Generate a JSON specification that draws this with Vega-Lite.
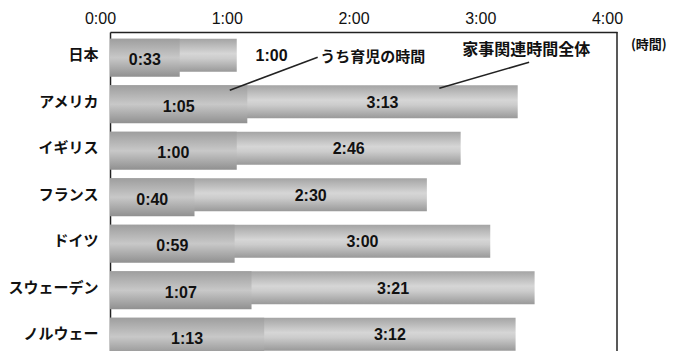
{
  "$schema": "https://vega.github.io/schema/vega-lite/v6.json",
  "width": 507,
  "height": 319,
  "autosize": "none",
  "padding": {"left": 110, "top": 32, "right": 60, "bottom": 0},
  "background": "white",
  "config": {"view": {"stroke": null}, "font": "Liberation Sans"},
  "datasets": {
    "rows": [
      {"country": "日本", "child": 33, "total": 60},
      {"country": "アメリカ", "child": 65, "total": 193},
      {"country": "イギリス", "child": 60, "total": 166},
      {"country": "フランス", "child": 40, "total": 150},
      {"country": "ドイツ", "child": 59, "total": 180},
      {"country": "スウェーデン", "child": 67, "total": 201},
      {"country": "ノルウェー", "child": 73, "total": 192}
    ]
  },
  "layer": [
    {
      "data": {"name": "rows"},
      "mark": {
        "type": "bar", "size": 33,
        "fill": {"gradient": "linear", "x1": 0, "y1": 0, "x2": 0, "y2": 1,
          "stops": [{"offset": 0, "color": "#a4a4a4"}, {"offset": 0.45, "color": "#d6d6d6"}, {"offset": 0.6, "color": "#cccccc"}, {"offset": 1, "color": "#999999"}]}
      },
      "encoding": {
        "y": {"field": "country", "type": "nominal", "sort": null, "title": null,
          "scale": {"range": [0, 325.5], "paddingInner": 0, "paddingOuter": 0},
          "axis": {"ticks": false, "domainColor": "#222", "domainWidth": 1.5, "labelFont": "Noto Sans CJK JP", "labelFontWeight": "bold", "labelFontSize": 15, "labelColor": "#111", "labelPadding": 12}},
        "x": {"field": "total", "type": "quantitative", "title": null,
          "scale": {"domain": [0, 240], "nice": false},
          "axis": {"orient": "top", "values": [0, 60, 120, 180, 240], "labelExpr": "floor(datum.value/60) + ':00'", "grid": false, "ticks": false, "domainColor": "#222", "domainWidth": 1.5, "labelFontSize": 16, "labelColor": "#111", "labelPadding": 6, "labelOffset": -10, "labelFlush": false, "labelFont": "Liberation Sans"}}
      }
    },
    {
      "data": {"name": "rows"},
      "mark": {
        "type": "bar", "size": 38, "yOffset": 2.5,
        "fill": {"gradient": "linear", "x1": 0, "y1": 0, "x2": 0, "y2": 1,
          "stops": [{"offset": 0, "color": "#9e9e9e"}, {"offset": 0.5, "color": "#c8c8c8"}, {"offset": 1, "color": "#909090"}]}
      },
      "encoding": {
        "y": {"field": "country", "type": "nominal", "sort": null, "title": null},
        "x": {"field": "child", "type": "quantitative", "title": null}
      }
    },
    {
      "data": {"name": "rows"},
      "transform": [
        {"calculate": "floor(datum.child/60) + ':' + (datum.child % 60 < 10 ? '0' : '') + (datum.child % 60)", "as": "childLabel"},
        {"calculate": "datum.child / 2", "as": "childMid"}
      ],
      "mark": {"type": "text", "fontWeight": "bold", "fontSize": 16, "color": "#111", "yOffset": 5},
      "encoding": {
        "y": {"field": "country", "type": "nominal", "sort": null, "title": null},
        "x": {"field": "childMid", "type": "quantitative", "title": null},
        "text": {"field": "childLabel"}
      }
    },
    {
      "data": {"name": "rows"},
      "transform": [
        {"calculate": "floor(datum.total/60) + ':' + (datum.total % 60 < 10 ? '0' : '') + (datum.total % 60)", "as": "totalLabel"},
        {"calculate": "datum.total - datum.child < 60 ? datum.total + 16.5 : (datum.child + datum.total) / 2", "as": "totalPos"}
      ],
      "mark": {"type": "text", "fontWeight": "bold", "fontSize": 16, "color": "#111", "yOffset": 1},
      "encoding": {
        "y": {"field": "country", "type": "nominal", "sort": null, "title": null},
        "x": {"field": "totalPos", "type": "quantitative", "title": null},
        "text": {"field": "totalLabel"}
      }
    },
    {
      "data": {"values": [{"edge": 240}]},
      "mark": {"type": "rule", "color": "#222", "strokeWidth": 1.5},
      "encoding": {"x": {"field": "edge", "type": "quantitative", "title": null}}
    },
    {
      "data": {"values": [{"from": 56.7, "to": 98.3, "r1": "アメリカ", "r2": "日本"}]},
      "mark": {"type": "rule", "color": "#222", "strokeWidth": 1.5, "yOffset": -11.5, "y2Offset": 2},
      "encoding": {
        "x": {"field": "from", "type": "quantitative", "title": null},
        "x2": {"field": "to"},
        "y": {"field": "r1", "type": "nominal", "sort": null, "title": null},
        "y2": {"field": "r2"}
      }
    },
    {
      "data": {"values": [{"from": 155.9, "to": 198.4, "r1": "アメリカ", "r2": "日本"}]},
      "mark": {"type": "rule", "color": "#222", "strokeWidth": 1.5, "yOffset": -13.5, "y2Offset": 7},
      "encoding": {
        "x": {"field": "from", "type": "quantitative", "title": null},
        "x2": {"field": "to"},
        "y": {"field": "r1", "type": "nominal", "sort": null, "title": null},
        "y2": {"field": "r2"}
      }
    },
    {
      "data": {"values": [{"label": "うち育児の時間", "t": 99.5, "r": "日本"}]},
      "mark": {"type": "text", "align": "left", "font": "Noto Sans CJK JP", "fontWeight": "bold", "fontSize": 15, "color": "#111", "yOffset": 2},
      "encoding": {
        "x": {"field": "t", "type": "quantitative", "title": null},
        "y": {"field": "r", "type": "nominal", "sort": null, "title": null},
        "text": {"field": "label"}
      }
    },
    {
      "data": {"values": [{"label": "家事関連時間全体", "t": 166.7, "r": "日本"}]},
      "mark": {"type": "text", "align": "left", "font": "Noto Sans CJK JP", "fontWeight": "bold", "fontSize": 16, "color": "#111", "yOffset": -5},
      "encoding": {
        "x": {"field": "t", "type": "quantitative", "title": null},
        "y": {"field": "r", "type": "nominal", "sort": null, "title": null},
        "text": {"field": "label"}
      }
    },
    {
      "data": {"values": [{"label": "(時間)", "t": 246.6, "r": "日本"}]},
      "mark": {"type": "text", "align": "left", "font": "Noto Sans CJK JP", "fontWeight": "bold", "fontSize": 13, "color": "#111", "yOffset": -10},
      "encoding": {
        "x": {"field": "t", "type": "quantitative", "title": null},
        "y": {"field": "r", "type": "nominal", "sort": null, "title": null},
        "text": {"field": "label"}
      }
    }
  ]
}
